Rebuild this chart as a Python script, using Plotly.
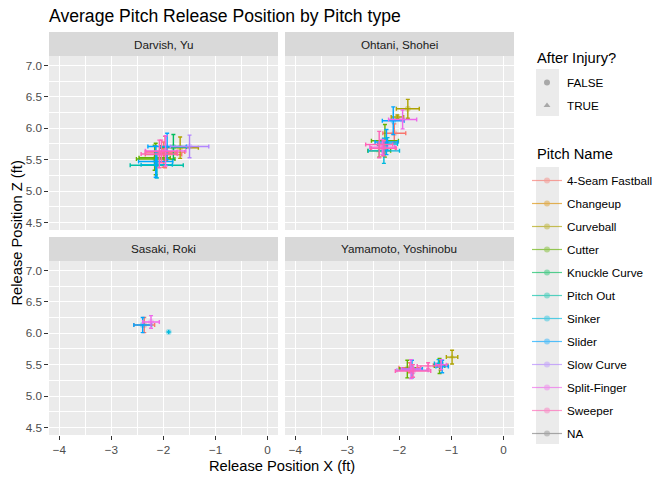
import plotly.graph_objects as go

# facets and pitch palette (ggplot hue palette, NA in grey50)
pitchers = ["Darvish, Yu", "Ohtani, Shohei", "Sasaki, Roki", "Yamamoto, Yoshinobu"]
pitch_names = ["4-Seam Fastball", "Changeup", "Curveball", "Cutter", "Knuckle Curve",
               "Pitch Out", "Sinker", "Slider", "Slow Curve", "Split-Finger",
               "Sweeper", "NA"]
pitch_colors = ["#F8766D", "#DB8E00", "#AEA200", "#64B200", "#00BD5C", "#00C1A7",
                "#00BADE", "#00A6FF", "#B385FF", "#EF67EB", "#FF63B6", "#7F7F7F"]
injury_levels = ["FALSE", "TRUE"]
injury_symbols = ["circle", "triangle-up"]

# average release position (ft) and standard deviation, one row per group
pitcher = (["Darvish, Yu"] * 15 + ["Ohtani, Shohei"] * 14
           + ["Sasaki, Roki"] * 4 + ["Yamamoto, Yoshinobu"] * 13)
pitch = [
    # Darvish
    "4-Seam Fastball", "4-Seam Fastball", "Changeup", "Curveball", "Cutter", "Cutter",
    "Knuckle Curve", "Pitch Out", "Sinker", "Slider", "Slider", "Slow Curve",
    "Split-Finger", "Sweeper", "Sweeper",
    # Ohtani
    "4-Seam Fastball", "4-Seam Fastball", "Curveball", "Curveball", "Cutter", "Cutter",
    "Sinker", "Sinker", "Slider", "Slider", "Split-Finger", "Split-Finger",
    "Sweeper", "Sweeper",
    # Sasaki
    "4-Seam Fastball", "Sinker", "Slider", "Split-Finger",
    # Yamamoto
    "4-Seam Fastball", "4-Seam Fastball", "Curveball", "Cutter", "Cutter", "Slider",
    "Slider", "Slow Curve", "Split-Finger", "Split-Finger", "Sweeper", "Sweeper",
    "Sinker",
]
after_injury = [
    "FALSE", "TRUE", "FALSE", "FALSE", "FALSE", "TRUE", "FALSE", "FALSE", "FALSE",
    "FALSE", "TRUE", "FALSE", "FALSE", "FALSE", "TRUE",
    "FALSE", "TRUE", "FALSE", "TRUE", "FALSE", "TRUE", "FALSE", "TRUE", "FALSE",
    "TRUE", "FALSE", "TRUE", "FALSE", "TRUE",
    "FALSE", "FALSE", "FALSE", "FALSE",
    "FALSE", "TRUE", "TRUE", "FALSE", "TRUE", "FALSE", "TRUE", "FALSE", "FALSE",
    "TRUE", "FALSE", "TRUE", "TRUE",
]
release_x = [
    -1.97, -2.00, -1.95, -1.68, -2.15, -2.17, -1.81, -2.13, -2.13, -2.15, -1.93,
    -1.50, -1.96, -2.08, -2.04,
    -2.10, -2.32, -1.84, -2.04, -2.28, -2.39, -2.30, -2.23, -2.12, -2.25, -1.94,
    -2.33, -2.39, -2.30,
    -2.37, -1.90, -2.40, -2.24,
    -1.80, -1.21, -0.99, -1.85, -1.23, -1.76, -1.18, -1.75, -1.78, -1.20, -1.74,
    -1.45, -1.25,
]
release_z = [
    5.62, 5.58, 5.60, 5.69, 5.51, 5.53, 5.70, 5.41, 5.42, 5.47, 5.71, 5.71, 5.64,
    5.59, 5.63,
    5.92, 5.68, 6.31, 6.18, 5.80, 5.64, 5.64, 5.75, 6.12, 5.78, 6.14, 5.70, 5.74,
    5.68,
    6.13, 6.02, 6.13, 6.18,
    5.45, 5.49, 5.62, 5.43, 5.48, 5.43, 5.47, 5.41, 5.43, 5.50, 5.40, 5.48, 5.52,
]
release_x_sd = [
    0.38, 0.35, 0.20, 0.35, 0.37, 0.30, 0.25, 0.51, 0.30, 0.33, 0.37, 0.37, 0.39,
    0.35, 0.30,
    0.22, 0.24, 0.22, 0.12, 0.26, 0.22, 0.30, 0.19, 0.21, 0.22, 0.27, 0.24, 0.26,
    0.24,
    0.20, None, 0.17, 0.16,
    0.21, 0.14, 0.11, 0.15, 0.10, 0.20, 0.12, 0.30, 0.18, 0.10, 0.34, 0.21, 0.08,
]
release_z_sd = [
    0.25, 0.20, 0.11, 0.17, 0.25, 0.20, 0.20, 0.20, 0.21, 0.25, 0.21, 0.18, 0.24,
    0.22, 0.18,
    0.15, 0.12, 0.15, 0.03, 0.26, 0.10, 0.20, 0.10, 0.22, 0.20, 0.15, 0.12, 0.21,
    0.12,
    0.12, None, 0.12, 0.10,
    0.08, 0.08, 0.11, 0.14, 0.12, 0.14, 0.10, 0.05, 0.15, 0.08, 0.10, 0.05, 0.06,
]

x_ticks = [-4, -3, -2, -1, 0]
y_ticks = [4.5, 5.0, 5.5, 6.0, 6.5, 7.0]

W, H = 672, 480
col_px = [(49, 278), (285, 514)]
row_px = [(56, 230), (261, 435)]
strip_h = 24

fig = go.Figure()

for i, name in enumerate(pitchers):
    ax = "" if i == 0 else str(i + 1)
    for p, col in zip(pitch_names, pitch_colors):
        rows = [k for k in range(len(pitch)) if pitcher[k] == name and pitch[k] == p]
        if not rows:
            continue
        fig.add_trace(go.Scatter(
            x=[release_x[k] for k in rows],
            y=[release_z[k] for k in rows],
            mode="markers",
            marker=dict(
                color=col, size=6, opacity=0.35,
                symbol=[injury_symbols[injury_levels.index(after_injury[k])] for k in rows],
            ),
            error_x=dict(type="data", array=[release_x_sd[k] for k in rows],
                         color=col, thickness=1.4, width=2),
            error_y=dict(type="data", array=[release_z_sd[k] for k in rows],
                         color=col, thickness=1.4, width=2),
            xaxis="x" + ax, yaxis="y" + ax,
            showlegend=False, hoverinfo="skip",
        ))

# legend entries
for lvl, sym in zip(injury_levels, injury_symbols):
    fig.add_trace(go.Scatter(
        x=[None], y=[None], mode="markers", name=lvl, legend="legend",
        legendgroup="inj" + lvl,
        marker=dict(symbol=sym, color="#8C8C8C", size=6, opacity=0.7),
    ))
for p, col in zip(pitch_names, pitch_colors):
    fig.add_trace(go.Scatter(
        x=[None], y=[None], mode="lines+markers", name=p, legend="legend2",
        legendgroup="pitch" + p, opacity=0.65,
        line=dict(color=col, width=1.2),
        marker=dict(color=col, size=6, opacity=0.6),
    ))

font = "Liberation Sans, Arial, sans-serif"
tick_font = dict(family=font, size=11.7, color="#4D4D4D")

layout = dict(
    width=W, height=H,
    margin=dict(l=0, r=0, t=0, b=0),
    paper_bgcolor="white",
    plot_bgcolor="#EBEBEB",
    font=dict(family=font, color="black"),
    title=dict(text="Average Pitch Release Position by Pitch type",
               x=49 / W, xanchor="left", y=1 - 16 / H, yanchor="middle",
               font=dict(size=17.6, color="black")),
    shapes=[], annotations=[],
)

for i, name in enumerate(pitchers):
    r, c = divmod(i, 2)
    ax = "" if i == 0 else str(i + 1)
    x0, x1 = col_px[c]
    y0, y1 = row_px[r]
    xdom = [x0 / W, x1 / W]
    ydom = [1 - y1 / H, 1 - y0 / H]
    layout["xaxis" + ax] = dict(
        domain=xdom, anchor="y" + ax, range=[-4.2, 0.2],
        tickvals=x_ticks, showticklabels=(r == 1), ticks="outside" if r == 1 else "",
        ticklen=3.7, tickwidth=1.07, tickcolor="#333333", tickfont=tick_font,
        showgrid=True, gridcolor="white", gridwidth=1.07, zeroline=False,
        minor=dict(tickvals=[-3.5, -2.5, -1.5, -0.5], showgrid=True,
                   gridcolor="white", gridwidth=0.53, ticks=""),
        automargin=False, fixedrange=True,
    )
    layout["yaxis" + ax] = dict(
        domain=ydom, anchor="x" + ax, range=[4.38, 7.15],
        tickvals=y_ticks, tickformat=".1f",
        showticklabels=(c == 0), ticks="outside" if c == 0 else "",
        ticklen=3.7, tickwidth=1.07, tickcolor="#333333", tickfont=tick_font,
        showgrid=True, gridcolor="white", gridwidth=1.07, zeroline=False,
        minor=dict(tickvals=[4.75, 5.25, 5.75, 6.25, 6.75], showgrid=True,
                   gridcolor="white", gridwidth=0.53, ticks=""),
        automargin=False, fixedrange=True,
    )
    layout["shapes"].append(dict(
        type="rect", xref="paper", yref="paper",
        x0=xdom[0], x1=xdom[1], y0=ydom[1], y1=ydom[1] + strip_h / H,
        fillcolor="#D9D9D9", line=dict(width=0), layer="below",
    ))
    layout["annotations"].append(dict(
        text=name, xref="paper", yref="paper", showarrow=False,
        x=(xdom[0] + xdom[1]) / 2, y=ydom[1] + strip_h / 2 / H,
        xanchor="center", yanchor="middle",
        font=dict(size=11.7, color="#1A1A1A"),
    ))

layout["annotations"] += [
    dict(text="Release Position X (ft)", xref="paper", yref="paper", showarrow=False,
         x=(49 + 514) / 2 / W, y=1 - 466 / H, xanchor="center", yanchor="middle",
         font=dict(size=14.7, color="black")),
    dict(text="Release Position Z (ft)", xref="paper", yref="paper", showarrow=False,
         x=16 / W, y=1 - (32 + 435) / 2 / H, xanchor="center", yanchor="middle",
         textangle=-90, font=dict(size=14.7, color="black")),
    # legend titles
    dict(text="After Injury?", xref="paper", yref="paper", showarrow=False,
         x=535 / W, y=1 - 58 / H, xanchor="left", yanchor="middle",
         font=dict(size=14.7, color="black")),
    dict(text="Pitch Name", xref="paper", yref="paper", showarrow=False,
         x=535 / W, y=1 - 154 / H, xanchor="left", yanchor="middle",
         font=dict(size=14.7, color="black")),
]

# grey key backgrounds behind the legend symbols
layout["shapes"] += [
    dict(type="rect", xref="paper", yref="paper", x0=536 / W, x1=559 / W,
         y0=1 - 116 / H, y1=1 - 69 / H, fillcolor="#EBEBEB", line=dict(width=0),
         layer="below"),
    dict(type="rect", xref="paper", yref="paper", x0=536 / W, x1=559 / W,
         y0=1 - 444 / H, y1=1 - 167 / H, fillcolor="#EBEBEB", line=dict(width=0),
         layer="below"),
]

legend_common = dict(
    xanchor="left", yanchor="top", bgcolor="rgba(0,0,0,0)",
    font=dict(size=11.7, color="black"), tracegroupgap=4,
    traceorder="grouped", itemclick=False, itemdoubleclick=False,
)
layout["legend"] = dict(x=527 / W, y=1 - 68 / H, **legend_common)
layout["legend2"] = dict(x=527 / W, y=1 - 166 / H, **legend_common)

fig.update_layout(**layout)
fig.write_html("out.html", config={"displayModeBar": False},
               post_script="document.body.style.margin='0';")
